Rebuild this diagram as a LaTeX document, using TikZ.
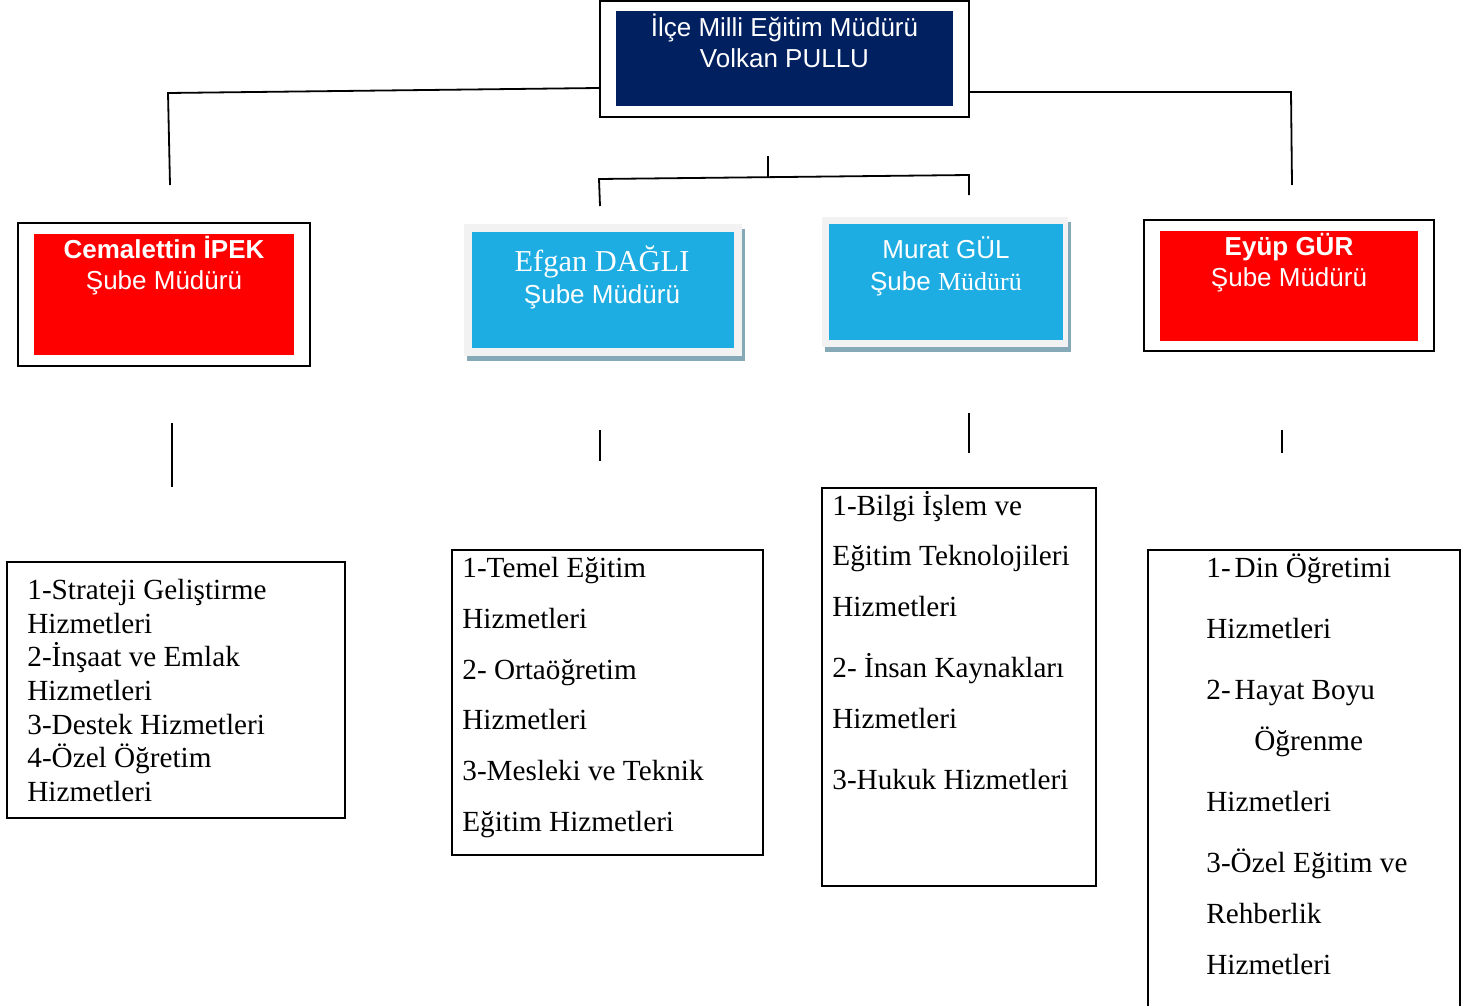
\documentclass[tikz,border=0pt]{standalone}
\usepackage{fontspec}
\setmainfont{Liberation Serif}
\setsansfont{Liberation Sans}
\usetikzlibrary{positioning,calc,shadows}
\definecolor{navy}{HTML}{002060}
\definecolor{skyblue}{HTML}{1EADE3}
\definecolor{lightgray}{HTML}{F2F2F2}
\definecolor{shadegray}{HTML}{86A9B8}
\newcommand{\hstrut}{\rule{0pt}{13pt}}
\tikzset{
  boxsize/.style 2 args={minimum width=#1*0.5pt,minimum height=#2*0.5pt},
  outerframe/.style={draw,line width=1pt,rectangle,inner sep=0pt,fill=white},
  fillbox/.style={rectangle,inner sep=0pt,fill=#1},
  shadebox/.style={rectangle,inner sep=0pt,fill=lightgray,
    general shadow={fill=shadegray,shadow xshift=1.5pt,shadow yshift=-2.5pt}},
  headtext/.style={anchor=north,inner sep=0pt,align=center,text=white,
    font=\sffamily\fontsize{13pt}{#1}\selectfont},
  listbox/.style={draw,line width=1pt,rectangle,inner sep=0pt},
  listtext/.style={anchor=north west,inner sep=0pt,align=left,
    font=\rmfamily\fontsize{14.6pt}{#1}\selectfont},
  link/.style={line width=0.9pt}
}
\begin{document}
\begin{tikzpicture}[x=0.5pt,y=-0.5pt]
\useasboundingbox (0,0) rectangle (1478,1006);
% top box
\node[outerframe,boxsize={369}{116}](dir) at (784.5,59){};
\node[fillbox=navy,boxsize={337}{95}](dirin) at (784.5,58.5){};
\node[headtext=15.5pt](dirtxt) at (784.5,10.5){\hstrut İlçe Milli Eğitim Müdürü\\Volkan PULLU};
% second row
\node[outerframe,boxsize={292}{143}](cemal) at (164,294.5){};
\node[fillbox=red,boxsize={260}{121}](cemalin) at (164,294.5){};
\node[headtext=15.5pt](cemaltxt) at (164,232.5){\hstrut\bfseries Cemalettin İPEK\\Şube Müdürü};
\node[shadebox,boxsize={278}{132}](efgan) at (603,290){};
\node[fillbox=skyblue,boxsize={262}{116}](efganin) at (603,290){};
\node[headtext=16.25pt](efgantxt) at (602,245){\hstrut{\rmfamily\fontsize{15.2pt}{16pt}\selectfont Efgan DAĞLI}\\Şube Müdürü};
\node[shadebox,boxsize={246}{130}](murat) at (945,282){};
\node[fillbox=skyblue,boxsize={234}{116}](muratin) at (946,282){};
\node[headtext=16pt](murattxt) at (946,232.5){\hstrut Murat GÜL\\Şube {\rmfamily Müdürü}};
\node[outerframe,boxsize={290}{131}](eyup) at (1289,285.5){};
\node[fillbox=red,boxsize={258}{110}](eyupin) at (1289,286){};
\node[headtext=15.5pt](eyuptxt) at (1289,229.5){\hstrut\bfseries Eyüp GÜR\\\mdseries Şube Müdürü};
% connectors
\coordinate (l_0) at (168,93);
\coordinate (l_1) at (170,185);
\coordinate (r_0) at (1291,92);
\coordinate (r_1) at (1292,185);
\draw[link] ([yshift=-14.5pt]dir.west) -- (l_0) -- (l_1);
\draw[link] ([yshift=-16.5pt]dir.east) -- (r_0) -- (r_1);
\coordinate (m_0) at (768,156);
\coordinate (m_1) at (768,177);
\coordinate (m_l) at (599,179);
\coordinate (m_r) at (969,175);
\coordinate (m_l1) at (600,206);
\coordinate (m_r1) at (969,195);
\draw[link] (m_0) -- (m_1);
\draw[link] (m_l1) -- (m_l) -- (m_r) -- (m_r1);
\coordinate (s_1a) at (172,423); \coordinate (s_1b) at (172,487);
\coordinate (s_2a) at (600,430); \coordinate (s_2b) at (600,461);
\coordinate (s_3a) at (969,413); \coordinate (s_3b) at (969,453);
\coordinate (s_4a) at (1282,430); \coordinate (s_4b) at (1282,453);
\foreach \i in {1,...,4}
  \draw[link] (s_\i a) -- (s_\i b);
% service lists
\node[listbox,boxsize={338}{256}](list1) at (176,690){};
\node[listtext=16.85pt](list1txt) at (27,573){\hstrut 1-Strateji Geliştirme\\Hizmetleri\\2-İnşaat ve Emlak\\Hizmetleri\\3-Destek Hizmetleri\\4-Özel Öğretim\\Hizmetleri};
\node[listbox,boxsize={311}{305}](list2) at (607.5,702.5){};
\node[listtext=25.4pt](list2txt) at (462,551){\hstrut 1-Temel Eğitim\\Hizmetleri\\2- Ortaöğretim\\Hizmetleri\\3-Mesleki ve Teknik\\Eğitim Hizmetleri};
\node[listbox,boxsize={274}{398}](list3) at (959,687){};
\node[listtext=25.25pt](list3txt) at (832,489){\hstrut 1-Bilgi İşlem ve\\Eğitim Teknolojileri\\Hizmetleri\\[5.5pt]2- İnsan Kaynakları\\Hizmetleri\\[5.5pt]3-Hukuk Hizmetleri};
\node[listbox,boxsize={312}{500}](list4) at (1304,800){};
\node[listtext=25.35pt](list4txt) at (1206,551){\hstrut 1-\hspace{2pt}Din Öğretimi\\[5.25pt]Hizmetleri\\[5.25pt]2-\hspace{2pt}Hayat Boyu\\\hspace*{24pt}Öğrenme\\[5.25pt]Hizmetleri\\[5.25pt]3-Özel Eğitim ve\\Rehberlik\\Hizmetleri};
\end{tikzpicture}
\end{document}
